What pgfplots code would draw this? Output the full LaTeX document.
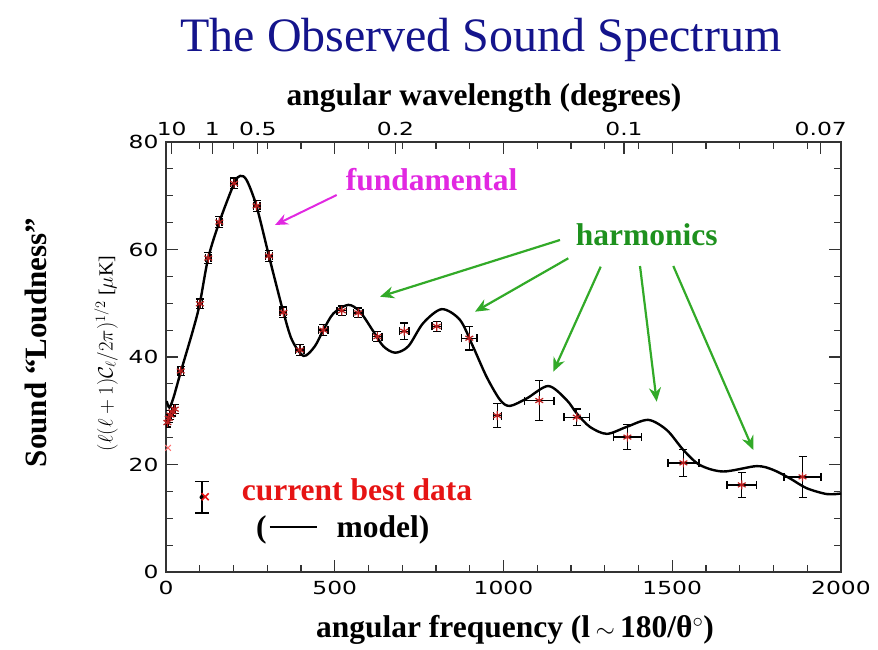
\documentclass[border=0pt]{standalone}
\usepackage{pgfplots}
\pgfplotsset{compat=1.18}
\usepackage{graphicx}
\usepackage{fontspec}
\setmainfont{Liberation Serif}
\newfontfamily\tickfont{DejaVu Sans}
\usetikzlibrary{arrows.meta}
\definecolor{navyT}{RGB}{20,20,140}
\definecolor{magT}{RGB}{225,40,225}
\definecolor{greenT}{RGB}{30,145,30}
\definecolor{greenA}{RGB}{50,170,40}
\definecolor{redT}{RGB}{230,20,20}
\definecolor{dataR}{RGB}{185,30,30}

\pgfplotstableread{
l     c     dl   dc
4     27.8  3    0.8
8     28.6  3    0.8
13    29.2  3    0.8
19    29.8  3    0.8
26    30.3  3    0.8
43.7  37.4  8    0.8
100.4 49.9  8    0.9
125.2 58.4  8    1.0
158.0 65.1  8    1.0
201.8 72.3  10   1.0
268.4 68.1  10   1.0
305.2 58.8  10   1.0
348.0 48.3  10   1.0
396.6 41.3  12   1.0
466.2 45.0  14   1.0
520.9 48.6  14   0.9
569.6 48.2  14   0.9
626.3 43.8  14   0.9
705.8 44.8  14   1.5
802.2 45.7  14   0.9
898.7 43.5  23   2.2
981.6 29.1  12   2.2
1106  31.9  44   3.7
1217  28.8  38   1.5
1367  25.1  42   2.3
1533  20.3  46   2.5
1706  16.2  44   2.3
1886  17.7  55   3.8
}\datatable

\begin{document}
\begin{tikzpicture}[x=1pt,y=1pt]
\path[use as bounding box] (0pt,0pt) rectangle (878pt,649pt);
\begin{axis}[
  at={(166pt,77pt)}, anchor=south west,
  width=675pt, height=430pt, scale only axis,
  xmin=0, xmax=2000, ymin=0, ymax=80,
  xtick={0,500,1000,1500,2000}, xticklabels={0,500,1000,1500,2000},
  minor x tick num=4,
  ytick={0,20,40,60,80}, yticklabels={0,20,40,60,80},
  minor y tick num=3,
  tick align=inside,
  major tick length=12pt, minor tick length=7pt,
  axis line style={line width=1.4pt, black!80},
  every tick/.style={line width=1.2pt, black!80},
  tick label style={font=\tickfont\fontsize{18}{18}\selectfont, xscale=1.3},
  xticklabel shift=6pt,
  yticklabel shift=3pt,
]
% model curve
\addplot[black, line width=2.4pt, smooth] coordinates {
(2,31.8) (10,30.6) (22,32.4) (44,37.3) (80,45.0) (100,49.9) (125,58.4)
(158,65.1) (202,72.3) (220,73.7) (239,72.9) (268,68.1) (305,58.8) (328,53.1)
(348,48.3) (373,43.2) (408,40.2) (441,42.0) (466,45.0) (496,48.1) (540,49.7)
(575,48.4) (614,44.8) (644,42.0) (679,40.8) (718,42.0) (762,46.3) (817,48.9)
(871,46.9) (910,41.9) (950,36.3) (990,32.0) (1019,30.9) (1069,32.3) (1133,34.6)
(1187,32.0) (1217,29.5) (1256,27.0) (1306,25.7) (1365,27.0) (1429,28.3)
(1484,26.4) (1533,22.7) (1582,19.9) (1651,18.7) (1750,19.7) (1799,19.0)
(1849,17.4) (1898,15.6) (1958,14.5) (2000,14.6)
};
% data
\addplot[dataR, only marks, mark=asterisk, mark size=4.5pt,
  mark options={dataR, line width=1.2pt},
  error bars/.cd, x dir=both, x explicit, y dir=both, y explicit,
  error bar style={black, line width=1.3pt},
  error mark=-,
  error mark options={rotate=90, black, line width=1.3pt, mark size=4pt}]
  table[x=l, y=c, x error=dl, y error=dc] {\datatable};
% faint low quadrupole
\addplot[only marks, mark=x, mark size=4pt, mark options={red!55, line width=1pt}] coordinates {(6,23.1)};
% legend symbol
\addplot[only marks, mark=none,
  error bars/.cd, y dir=both, y explicit,
  error bar style={black, line width=1.5pt},
  error mark=-,
  error mark options={rotate=90, black, line width=1.5pt, mark size=7pt}]
  coordinates {(106,13.9) +- (0,2.9)};
\addplot[only marks, mark=x, mark size=5pt, mark options={redT, line width=1.6pt}] coordinates {(116,14.0)};
\end{axis}
% top axis: angular wavelength
\begin{axis}[
  at={(166pt,77pt)}, anchor=south west,
  width=675pt, height=430pt, scale only axis,
  xmin=0, xmax=2000, ymin=0, ymax=80,
  axis x line*=top, axis y line=none,
  xtick={17,137,272,680,1357,1940},
  xticklabels={10,1,0.5,0.2,0.1,0.07},
  tick align=inside, major tick length=12pt,
  axis line style={line width=1.4pt, black!80},
  every tick/.style={line width=1.2pt, black!80},
  tick label style={font=\tickfont\fontsize{18}{18}\selectfont, xscale=1.3},
  xticklabel shift=3pt,
]
\addplot[draw=none] coordinates {(0,0) (2000,80)};
\end{axis}
% titles and labels
\node[anchor=base, navyT, font=\fontsize{48}{48}\selectfont] at (481pt,597pt) {The Observed Sound Spectrum};
\node[anchor=base, font=\bfseries\fontsize{31.5}{32}\selectfont] at (484pt,543pt) {angular wavelength (degrees)};
\node[anchor=base, font=\bfseries\fontsize{31.5}{32}\selectfont] at (515pt,12pt) {angular frequency (l\,$\sim$\,180/θ$^{\circ}$)};
\node[rotate=90, font=\bfseries\fontsize{31}{31}\selectfont] at (35.5pt,306.5pt) {Sound “Loudness”};
\node[rotate=90, font=\fontsize{20}{20}\selectfont] at (106pt,295.5pt) {$(\ell(\ell+1)\mathcal{C}_\ell/2\pi)^{1/2}$ [$\mu$K]};
% annotations
\node[magT, font=\bfseries\fontsize{31.5}{32}\selectfont] at (431.7pt,469pt) {fundamental};
\draw[magT, line width=2pt, -{Stealth[length=13pt,width=11pt]}] (336.7pt,454pt) -- (275pt,424pt);
\node[greenT, font=\bfseries\fontsize{31.5}{32}\selectfont] at (646.7pt,414pt) {harmonics};
\begin{scope}[greenA, line width=2.2pt, -{Stealth[length=14pt,width=12pt]}]
\draw (560pt,409pt) -- (380pt,352.3pt);
\draw (568.3pt,390.7pt) -- (475pt,337.3pt);
\draw (600.7pt,382.3pt) -- (553.3pt,277.3pt);
\draw (640pt,383pt) -- (656.7pt,247.3pt);
\draw (673.3pt,383pt) -- (753.3pt,199pt);
\end{scope}
\node[redT, font=\bfseries\fontsize{31.5}{32}\selectfont] at (357pt,159pt) {current best data};
\node[anchor=base west, font=\bfseries\fontsize{31.5}{32}\selectfont] at (252.7pt,112pt) {(\hspace{3pt}\rule[9pt]{47pt}{2.5pt}\hspace{20pt}model)};
\end{tikzpicture}
\end{document}
